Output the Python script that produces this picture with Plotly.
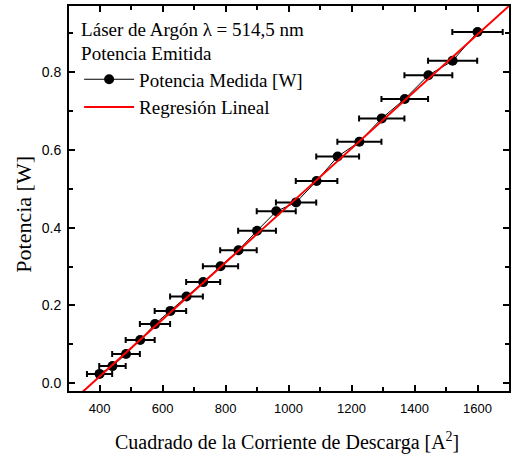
import plotly.graph_objects as go

# Data: square of discharge current [A^2] vs measured power [W]
current_sq = [400, 441, 484, 529, 576, 625, 676, 729, 784, 841, 900, 961,
              1024, 1089, 1156, 1225, 1296, 1369, 1444, 1521, 1600]
power = [0.024, 0.044, 0.075, 0.111, 0.152, 0.186, 0.223, 0.260, 0.301, 0.342,
         0.392, 0.442, 0.465, 0.520, 0.583, 0.621, 0.681, 0.731, 0.792, 0.829, 0.903]
current_sq_err = [40, 42, 44, 46, 48, 50, 52, 54, 56, 58, 60, 62,
                  64, 66, 68, 70, 72, 74, 76, 78, 80]

# Linear regression coefficients
slope = 0.000733
intercept = -0.276
fit_x = [300, 1700]
fit_y = [slope * x + intercept for x in fit_x]

x_ticks = [400, 600, 800, 1000, 1200, 1400, 1600]
y_ticks = [0.0, 0.2, 0.4, 0.6, 0.8]
y_tick_labels = ["0.0", "0.2", "0.4", "0.6", "0.8"]

x_title = "Cuadrado de la Corriente de Descarga [A<sup>2</sup>]"
y_title = "Potencia [W]"
legend_header = "Láser de Argón λ = 514,5 nm<br>Potencia Emitida"

serif = "Liberation Serif, Times New Roman, serif"
sans = "Liberation Sans, Arial, sans-serif"

fig = go.Figure()
fig.add_trace(go.Scatter(
    x=current_sq, y=power, mode="lines+markers", name="Potencia Medida [W]",
    line=dict(color="black", width=1),
    marker=dict(color="black", size=10),
    error_x=dict(type="data", array=current_sq_err, color="black", thickness=2, width=3),
))
fig.add_trace(go.Scatter(
    x=fit_x, y=fit_y, mode="lines", name="Regresión Lineal",
    line=dict(color="#ff0000", width=2),
))

axis_common = dict(
    showline=True, linecolor="black", linewidth=2, mirror="allticks",
    ticks="inside", ticklen=6, tickwidth=1.5, tickcolor="black",
    showgrid=False, zeroline=False, automargin=False,
)

fig.update_xaxes(
    range=[303, 1700], tickvals=x_ticks,
    minor=dict(dtick=100, tick0=0, ticks="inside", ticklen=4, tickwidth=1.5, tickcolor="black", showgrid=False),
    tickfont=dict(family=sans, size=13, color="black"),
    ticklabelstandoff=4,
    **axis_common,
)
fig.update_yaxes(
    range=[-0.02, 0.97], tickvals=y_ticks, ticktext=y_tick_labels,
    minor=dict(dtick=0.1, tick0=0, ticks="inside", ticklen=4, tickwidth=1.5, tickcolor="black", showgrid=False),
    tickfont=dict(family=sans, size=14, color="black"),
    ticklabelstandoff=3,
    **axis_common,
)

fig.add_annotation(
    text=x_title, xref="paper", yref="paper", x=0.495, y=0,
    xanchor="center", yanchor="middle", yshift=-50, showarrow=False,
    font=dict(family=serif, size=20, color="black"),
)
fig.add_annotation(
    text=y_title, xref="paper", yref="paper", x=0, y=0.458,
    xanchor="center", yanchor="middle", xshift=-45, textangle=-90, showarrow=False,
    font=dict(family=serif, size=22, color="black"),
)

fig.update_layout(
    width=512, height=457,
    margin=dict(l=69, r=3, t=6, b=66),
    paper_bgcolor="white", plot_bgcolor="white",
    showlegend=True,
    legend=dict(
        x=0.023, y=0.987, xanchor="left", yanchor="top",
        bgcolor="rgba(0,0,0,0)", borderwidth=0,
        font=dict(family=serif, size=19, color="black"),
        title=dict(text=legend_header, font=dict(family=serif, size=19, color="black"), side="top"),
        itemwidth=50, tracegroupgap=0,
    ),
)

fig.write_html(
    "out.html",
    config={"displayModeBar": False},
    post_script="document.body.style.margin='0';document.body.style.overflow='hidden';",
)
